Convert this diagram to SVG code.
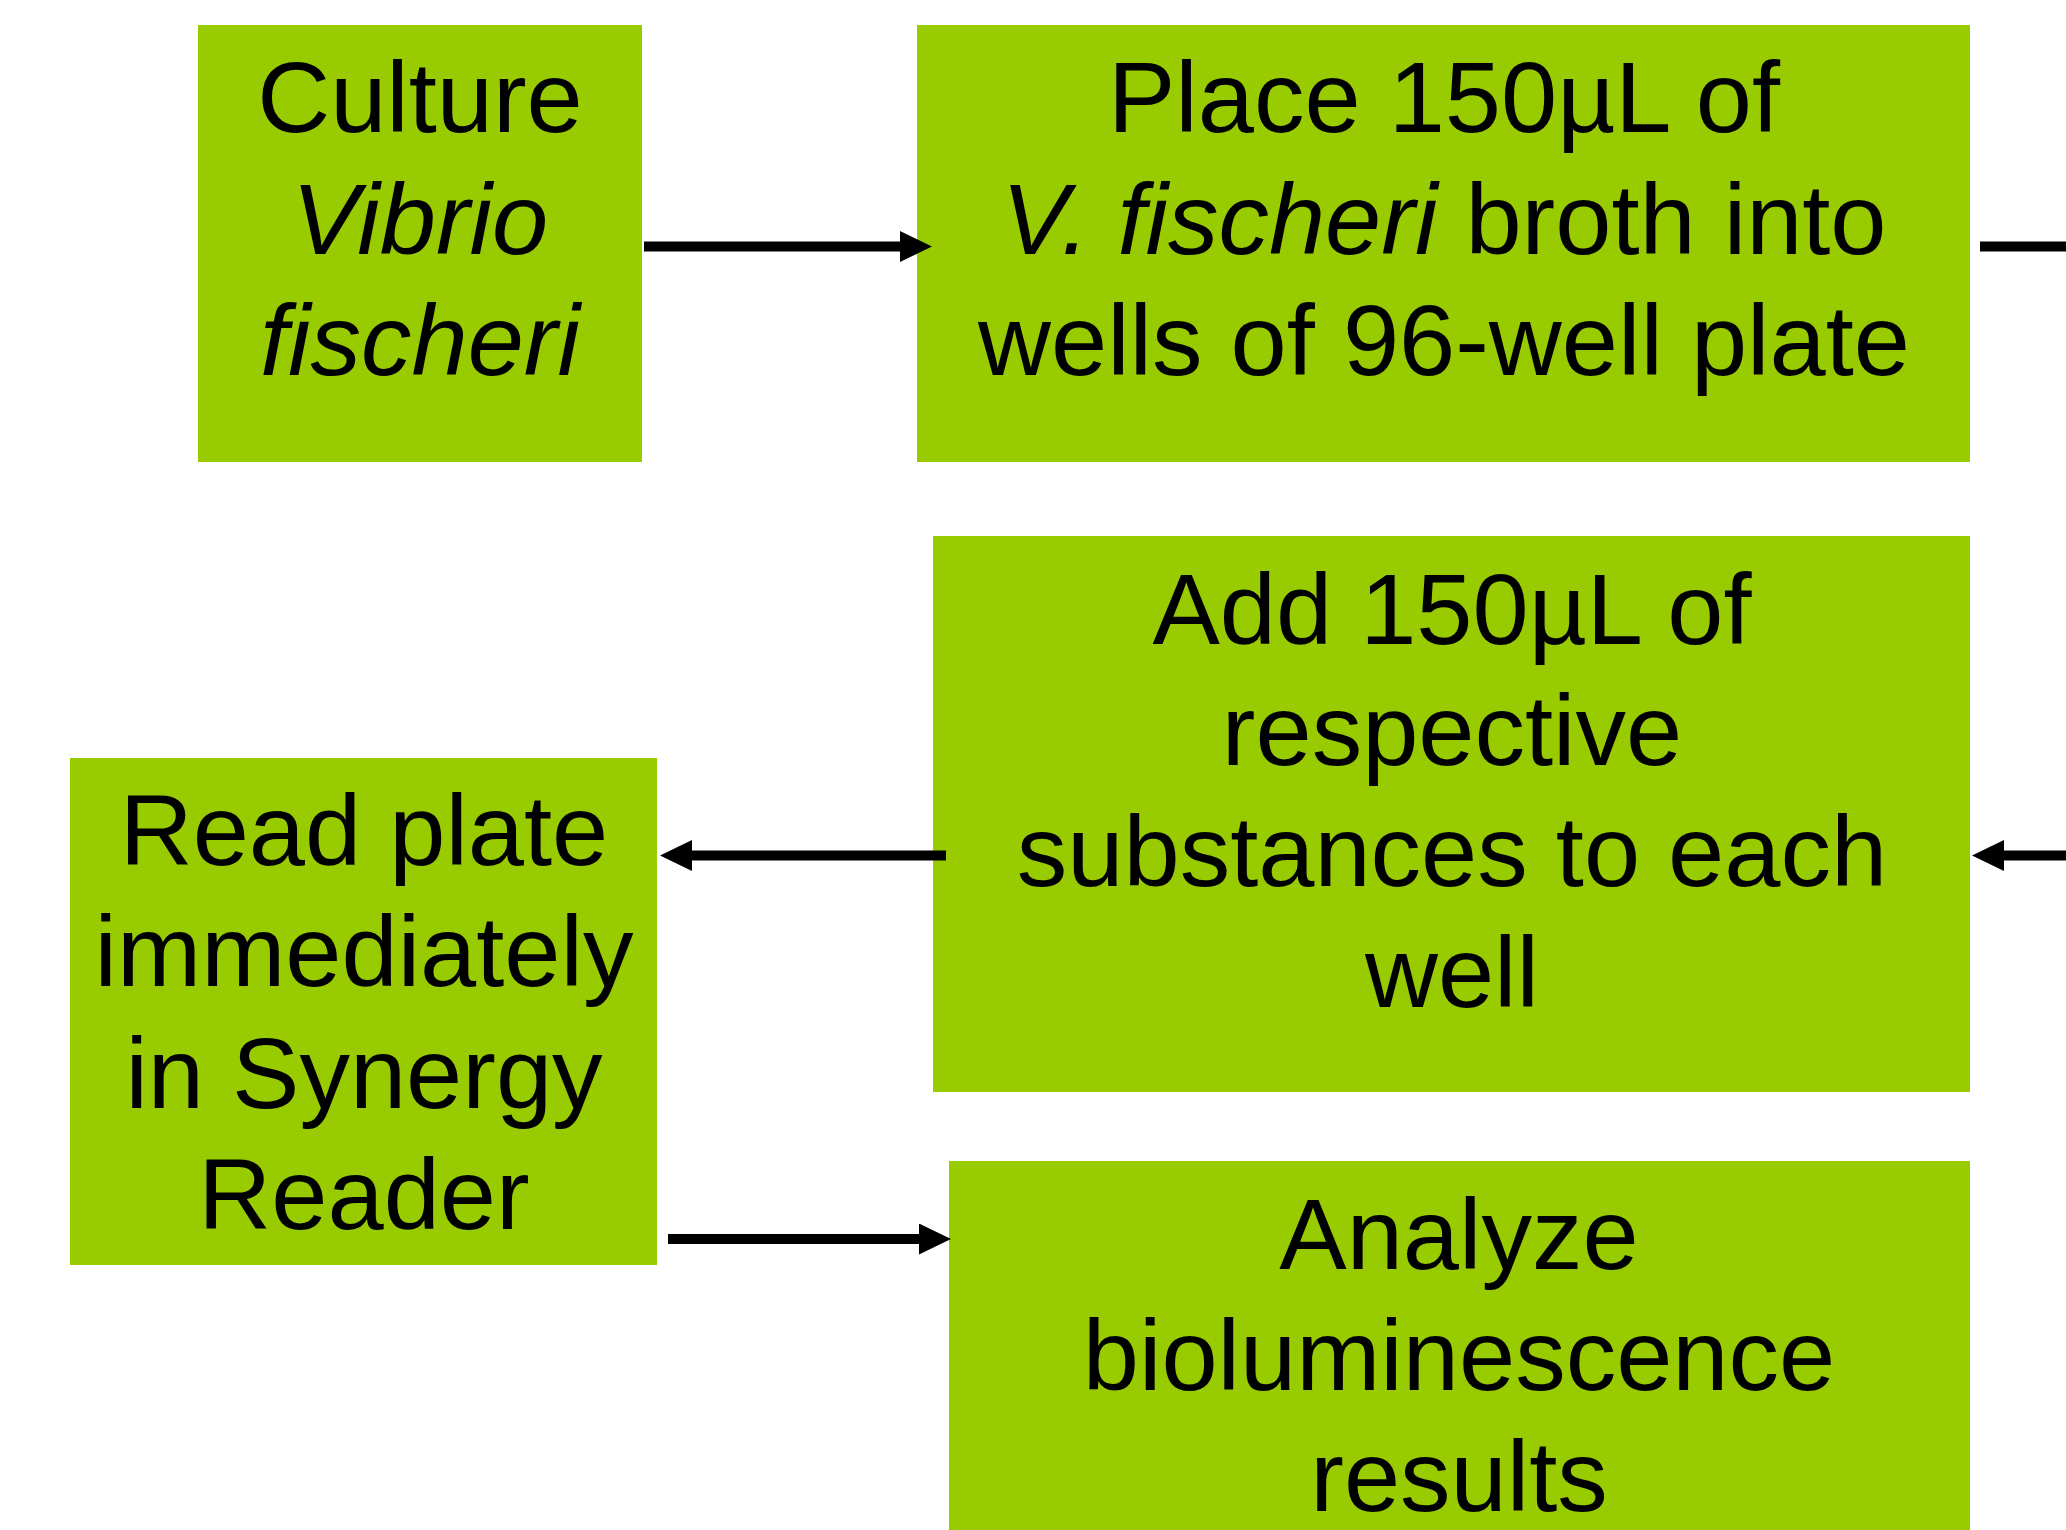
<svg xmlns="http://www.w3.org/2000/svg" width="2066" height="1530" viewBox="0 0 2066 1530">
<style>
.box{fill:#99CC00;}
.t{font-family:"Liberation Sans",Arial,sans-serif;font-size:101px;fill:#000;text-anchor:middle;}
.i{font-style:italic;}
.c{stroke:#000;stroke-width:10;fill:none;}
</style>
<defs>
<marker id="ah" markerUnits="userSpaceOnUse" markerWidth="33" markerHeight="32" refX="0" refY="15.5" orient="auto">
<path d="M0,0 L32,15.5 L0,31 z" fill="#000"/>
</marker>
</defs>
<rect width="2066" height="1530" fill="#fff"/>
<g id="culture">
<rect class="box" x="198" y="25" width="444" height="437"/>
<text class="t" x="420" y="132">Culture</text>
<text class="t i" x="420" y="254">Vibrio</text>
<text class="t i" x="420" y="375">fischeri</text>
</g>
<g id="place">
<rect class="box" x="917" y="25" width="1053" height="437"/>
<text class="t" x="1444" y="132">Place 150µL of</text>
<text class="t" x="1444" y="254"><tspan class="i">V. fischeri</tspan> broth into</text>
<text class="t" x="1444" y="375">wells of 96-well plate</text>
</g>
<g id="add">
<rect class="box" x="933" y="536" width="1037" height="556"/>
<text class="t" x="1452" y="644">Add 150µL of</text>
<text class="t" x="1452" y="765">respective</text>
<text class="t" x="1452" y="886">substances to each</text>
<text class="t" x="1452" y="1007">well</text>
</g>
<g id="read">
<rect class="box" x="70" y="758" width="587" height="507"/>
<text class="t" x="364" y="865">Read plate</text>
<text class="t" x="364" y="986">immediately</text>
<text class="t" x="364" y="1108">in Synergy</text>
<text class="t" x="364" y="1229">Reader</text>
</g>
<g id="analyze">
<rect class="box" x="949" y="1161" width="1021" height="380"/>
<text class="t" x="1459" y="1269">Analyze</text>
<text class="t" x="1459" y="1390">bioluminescence</text>
<text class="t" x="1459" y="1511">results</text>
</g>
<g id="connectors">
<path class="c" d="M644,246.5 H900" marker-end="url(#ah)"/>
<path class="c" d="M1980,246.5 H2066"/>
<path class="c" d="M2066,855.5 H2004" marker-end="url(#ah)"/>
<path class="c" d="M946,855.5 H692" marker-end="url(#ah)"/>
<path class="c" d="M668,1239 H919" marker-end="url(#ah)"/>
</g>
</svg>
